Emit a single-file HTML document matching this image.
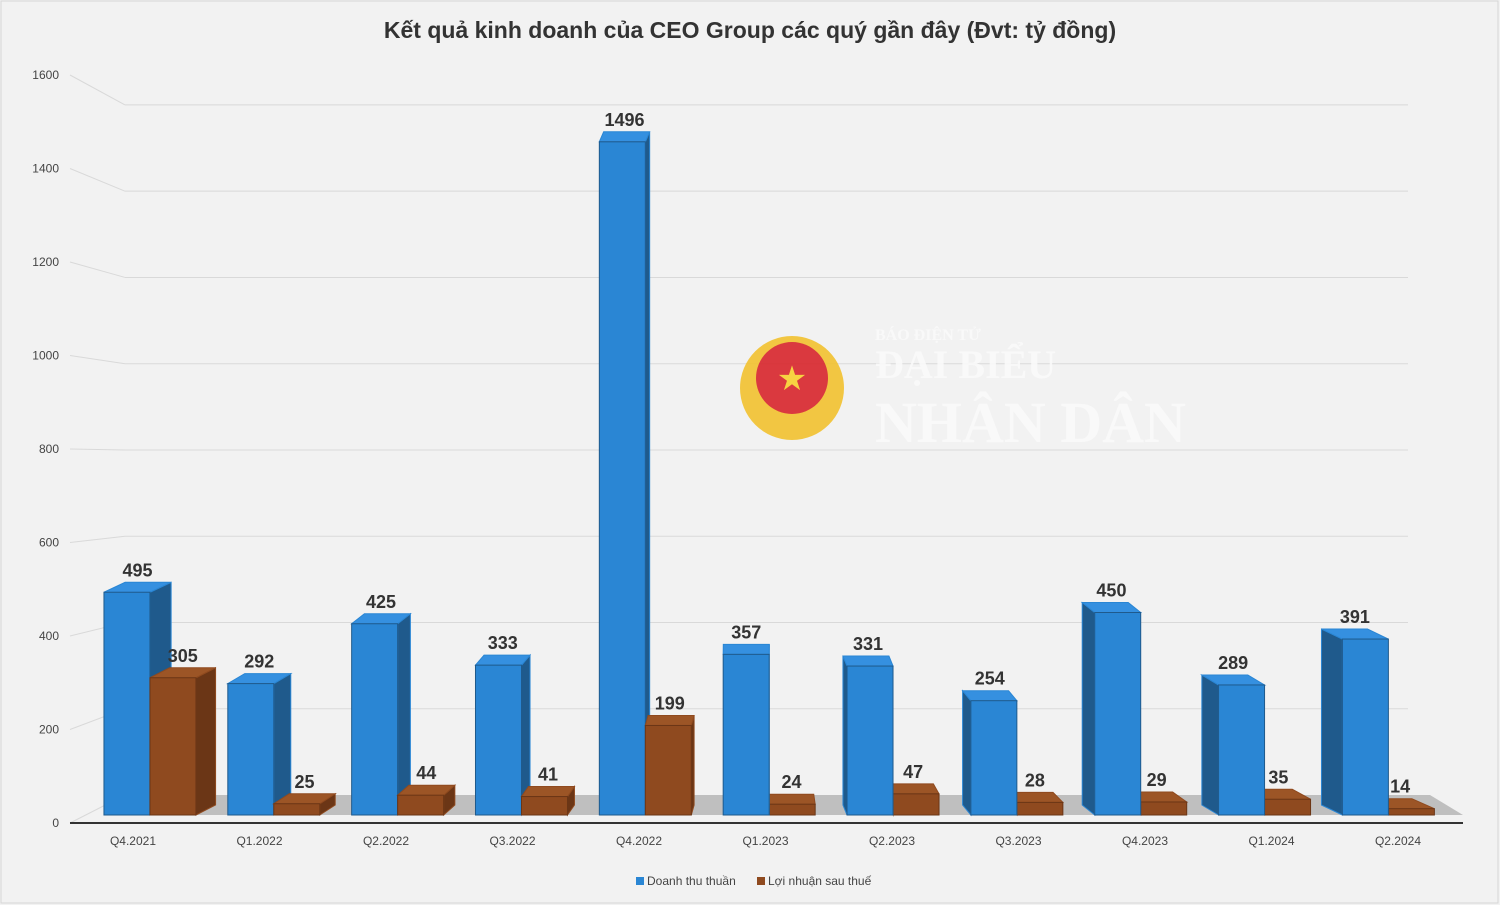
<!DOCTYPE html>
<html><head><meta charset="utf-8">
<style>
html,body{margin:0;padding:0;background:#f2f2f2;}
svg{display:block;font-family:"Liberation Sans","DejaVu Sans",sans-serif;}
</style></head>
<body>
<svg id="c" width="1500" height="905" viewBox="0 0 1500 905">
<rect x="0" y="0" width="1500" height="905" fill="#f2f2f2"/>
<rect x="1" y="1" width="1497" height="902" fill="none" stroke="#d6d6d6"/>
<text x="750" y="38" text-anchor="middle" font-size="23" font-weight="bold" fill="#333">Kết quả kinh doanh của CEO Group các quý gần đây (Đvt: tỷ đồng)</text>
<g id="grid"></g>
<g id="wm" opacity="0.9">
<circle cx="792" cy="388" r="52" fill="#f2c230"/>
<circle cx="792" cy="378" r="36" fill="#d8262c"/>
<text x="792" y="390" text-anchor="middle" font-size="34" fill="#f8d030">★</text>
<text x="875" y="340" font-size="16" font-family="Liberation Serif,serif" font-weight="bold" fill="#fafafa">BÁO ĐIỆN TỬ</text>
<text x="875" y="378" font-size="40" font-family="Liberation Serif,serif" font-weight="bold" fill="#fafafa">ĐẠI BIỂU</text>
<text x="875" y="442" font-size="58" font-family="Liberation Serif,serif" font-weight="bold" fill="#fafafa">NHÂN DÂN</text>
</g>
<polygon points="104,815 1463,815 1430,795 125,795" fill="#bfbfbf"/>
<line x1="70" y1="823" x2="1463" y2="823" stroke="#333" stroke-width="2"/>
<g id="bars"></g>
<g id="legend">
<rect x="636" y="877" width="8" height="8" fill="#2a86d4"/>
<text x="647" y="885" font-size="12" fill="#444">Doanh thu thuần</text>
<rect x="757" y="877" width="8" height="8" fill="#8f4a1f"/>
<text x="768" y="885" font-size="12" fill="#444">Lợi nhuận sau thuế</text>
</g>
</svg>
<script>
const categories=["Q4.2021","Q1.2022","Q2.2022","Q3.2022","Q4.2022","Q1.2023","Q2.2023","Q3.2023","Q4.2023","Q1.2024","Q2.2024"];
const revenue=[495,292,425,333,1496,357,331,254,450,289,391];
const profit=[305,25,44,41,199,24,47,28,29,35,14];
const yTicks=[0,200,400,600,800,1000,1200,1400,1600];
const NS="http://www.w3.org/2000/svg";
function mk(t,a,p){const e=document.createElementNS(NS,t);for(const k in a)e.setAttribute(k,a[k]);p.appendChild(e);return e;}
const backY=v=>795-v*0.4313;
const labY=v=>823-v*0.4675;
const frontY=v=>815-v*0.45;
const xC=i=>133+i*126.5;
const grid=document.getElementById('grid');
yTicks.forEach(v=>{
  if(v>0){const l=mk('line',{x1:125,y1:backY(v),x2:1408,y2:backY(v),stroke:'#d9d9d9','stroke-width':1},grid);
  
  }
  const d=mk('line',{x1:70,y1:labY(v),x2:125,y2:backY(v),stroke:'#d9d9d9','stroke-width':1},grid);
  
  
  const t=mk('text',{x:59,y:labY(v)+4,'text-anchor':'end','font-size':12,fill:'#444'},grid);
  t.textContent=v;
  
  
});
const bars=document.getElementById('bars');
function bar(x,w,v,front,side,top,name){
  const g=mk('g',{},bars);
  
  
  const dx=(750-(x+w/2))*0.034, dy=-10;
  const yt=frontY(v), yb=815;
  const sx=dx>=0?x+w:x;
  mk('polygon',{points:`${sx},${yb} ${sx+dx},${yb+dy} ${sx+dx},${yt+dy} ${sx},${yt}`,fill:side,stroke:front,'stroke-width':1},g);
  mk('polygon',{points:`${x},${yt} ${x+w},${yt} ${x+w+dx},${yt+dy} ${x+dx},${yt+dy}`,fill:top,stroke:front,'stroke-width':1},g);
  mk('rect',{x:x,y:yt,width:w,height:yb-yt,fill:front,stroke:side,'stroke-width':1},g);
  const t=mk('text',{x:x+w/2+dx/2,y:yt+dy-6,'text-anchor':'middle','font-size':18,'font-weight':'bold',fill:'#333'},g);
  t.textContent=v;
  
  
}
categories.forEach((c,i)=>{
  const cx=xC(i);
  const bl=cx-42+(750-cx)*0.021;
  const w=46;
  const drawBlue=()=>bar(bl,w,revenue[i],'#2a86d4','#1f5a8c','#3590e0','bar-revenue-'+c);
  const drawOr=()=>bar(bl+w,w,profit[i],'#8f4a1f','#6b3616','#9c5526','bar-profit-'+c);
  if(cx<750){drawBlue();drawOr();}else{drawOr();drawBlue();}
  const t=mk('text',{x:cx,y:845,'text-anchor':'middle','font-size':12,fill:'#444'},bars);
  t.textContent=c;
  
  
});
</script>
</body></html>
